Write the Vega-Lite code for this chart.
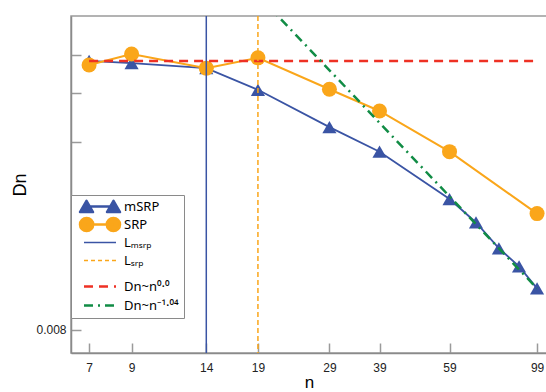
{
  "$schema": "https://vega.github.io/schema/vega-lite/v6.json",
  "autosize": {"type": "none"},
  "padding": {"left": 71, "top": 16, "right": 0, "bottom": 39},
  "width": 476,
  "height": 337,
  "background": "white",
  "config": {
    "view": {"stroke": "#9a9a9a", "strokeWidth": 1.5},
    "font": "Liberation Sans"
  },
  "datasets": {
    "main": [
      {"series": "mSRP", "n": 7, "Dn": 0.0386},
      {"series": "mSRP", "n": 9, "Dn": 0.0381},
      {"series": "mSRP", "n": 14, "Dn": 0.0370},
      {"series": "mSRP", "n": 19, "Dn": 0.0326},
      {"series": "mSRP", "n": 29, "Dn": 0.0262},
      {"series": "mSRP", "n": 39, "Dn": 0.0227},
      {"series": "mSRP", "n": 59, "Dn": 0.0172},
      {"series": "mSRP", "n": 69, "Dn": 0.0150},
      {"series": "mSRP", "n": 79, "Dn": 0.0129},
      {"series": "mSRP", "n": 89, "Dn": 0.0116},
      {"series": "mSRP", "n": 99, "Dn": 0.0102},
      {"series": "SRP", "n": 7, "Dn": 0.0377},
      {"series": "SRP", "n": 9, "Dn": 0.0402},
      {"series": "SRP", "n": 14, "Dn": 0.0370},
      {"series": "SRP", "n": 19, "Dn": 0.0393},
      {"series": "SRP", "n": 29, "Dn": 0.0327},
      {"series": "SRP", "n": 39, "Dn": 0.0288},
      {"series": "SRP", "n": 59, "Dn": 0.0227},
      {"series": "SRP", "n": 99, "Dn": 0.0158},
      {"series": "Lₘₛᵣₚ", "n": 14},
      {"series": "Lₛᵣₚ", "n": 19},
      {"series": "Dn~n⁰·⁰", "n": 7, "Dn": 0.0386},
      {"series": "Dn~n⁰·⁰", "n": 99, "Dn": 0.0386},
      {"series": "Dn~n⁻¹·⁰⁴", "n": 20, "Dn": 0.0538},
      {"series": "Dn~n⁻¹·⁰⁴", "n": 99, "Dn": 0.0102}
    ]
  },
  "data": {"name": "main"},
  "encoding": {
    "x": {
      "field": "n", "type": "quantitative",
      "scale": {"type": "log", "domain": [6.29, 105], "nice": false},
      "axis": {
        "values": [7, 9, 14, 19, 29, 39, 59, 99],
        "title": "n", "titleFontSize": 17, "titleFontWeight": "normal", "titleColor": "#000", "titlePadding": 1,
        "grid": false, "tickSize": -10, "tickColor": "#9a9a9a", "tickWidth": 1.5,
        "domainColor": "#8a8a8a", "domainWidth": 1.5,
        "labelFontSize": 12, "labelColor": "#222", "labelPadding": 19, "labelFlush": false
      }
    },
    "y": {
      "field": "Dn", "type": "quantitative",
      "scale": {"type": "log", "domain": [0.00699, 0.0502], "nice": false},
      "axis": {
        "values": [0.008, 0.016, 0.024, 0.032, 0.04],
        "labelExpr": "abs(datum.value - 0.008) < 1e-6 ? '0.008' : ''",
        "title": "Dn", "titleFontSize": 18, "titleFontWeight": "normal", "titleColor": "#000", "titlePadding": 6,
        "grid": false, "tickSize": -10, "tickColor": "#9a9a9a", "tickWidth": 1.5,
        "domainColor": "#8a8a8a", "domainWidth": 1.5,
        "labelFontSize": 12, "labelColor": "#222", "labelPadding": 15
      }
    },
    "color": {
      "field": "series", "type": "nominal",
      "scale": {
        "domain": ["mSRP", "SRP", "Lₘₛᵣₚ", "Lₛᵣₚ", "Dn~n⁰·⁰", "Dn~n⁻¹·⁰⁴"],
        "range": ["#3A54A4", "#FAA61A", "#3A54A4", "#FAA61A", "#EE3124", "#118C45"]
      },
      "legend": {
        "orient": "none", "legendX": 0, "legendY": 179,
        "title": null,
        "strokeColor": "#8a8a8a", "fillColor": "white", "padding": 5,
        "symbolSize": 1600, "symbolStrokeWidth": 2,
        "labelFont": "Noto Sans",
        "labelFontSize": 13, "labelColor": "#000", "labelOffset": 4, "rowPadding": 0,
        "encode": {
          "symbols": {
            "update": {
              "x": {"value": 24},
              "size": {"value": 1600},
              "strokeJoin": {"value": "round"},
              "shape": {"signal": "datum.index === 0 ? 'M-1,0.28L-0.675,-0.28L-0.35,0.28ZM-0.675,0L0.675,0M0.35,0.28L0.675,-0.28L1,0.28Z' : datum.index === 1 ? 'M-1,0A0.33,0.33 0 1,0 -0.34,0A0.33,0.33 0 1,0 -1,0ZM-0.67,0L0.67,0M0.34,0A0.33,0.33 0 1,0 1,0A0.33,0.33 0 1,0 0.34,0ZM0,-0.43L0,-0.43' : datum.index === 2 ? 'M-0.8,0L0.8,0M0,-0.42L0,-0.42' : datum.index === 3 ? 'M-0.8,0L0.8,0M0,-0.47L0,-0.47' : datum.index === 4 ? 'M-0.8,0L0.8,0M0,-0.85L0,-0.85' : datum.index === 5 ? 'M-0.8,0L0.8,0M0,-0.5L0,-0.5' : 'M-0.8,0L0.8,0'"},
              "fill": {"signal": "datum.index === 0 ? '#3A54A4' : datum.index === 1 ? '#FAA61A' : 'transparent'"},
              "fillOpacity": {"value": 1},
              "opacity": {"value": 1},
              "strokeWidth": {"signal": "datum.index === 2 ? 1.5 : datum.index === 3 ? 1.5 : 2.5"},
              "strokeDash": {"signal": "datum.index === 3 ? [4, 3] : datum.index === 4 ? [9, 6] : datum.index === 5 ? [9, 5, 2, 5] : []"}
            }
          },
          "labels": {
            "update": {
              "x": {"value": 48}
            }
          }
        }
      }
    }
  },
  "layer": [
    {
      "transform": [{"filter": "datum.series === 'mSRP'"}],
      "mark": {"type": "line", "strokeWidth": 1.8, "point": {"shape": "triangle-up", "size": 200, "filled": true, "opacity": 1}}
    },
    {
      "transform": [{"filter": "datum.series === 'SRP'"}],
      "mark": {"type": "line", "strokeWidth": 2, "point": {"shape": "circle", "size": 225, "filled": true, "opacity": 1}}
    },
    {
      "transform": [{"filter": "datum.series === 'Dn~n⁰·⁰'"}],
      "mark": {"type": "line", "strokeWidth": 2.5, "strokeDash": [9, 6]}
    },
    {
      "transform": [{"filter": "datum.series === 'Dn~n⁻¹·⁰⁴'"}],
      "mark": {"type": "line", "strokeWidth": 2.5, "strokeDash": [9, 5, 2, 5], "clip": true}
    },
    {
      "transform": [{"filter": "datum.series === 'Lₘₛᵣₚ'"}],
      "mark": {"type": "rule", "strokeWidth": 1.5},
      "encoding": {"y": {"value": 0}, "y2": {"value": 337}}
    },
    {
      "transform": [{"filter": "datum.series === 'Lₛᵣₚ'"}],
      "mark": {"type": "rule", "strokeWidth": 1.5, "strokeDash": [5, 3]},
      "encoding": {"y": {"value": 0}, "y2": {"value": 337}}
    }
  ]
}
